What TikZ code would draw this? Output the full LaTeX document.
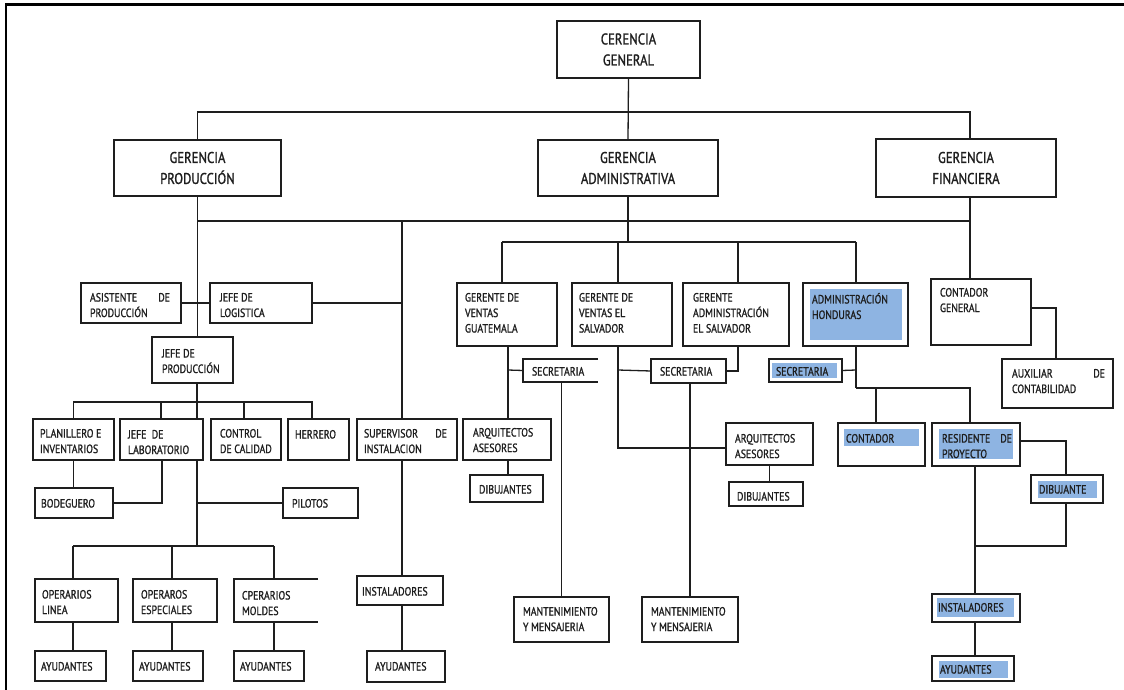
\documentclass[tikz,border=0pt]{standalone}
\usepackage{fontspec}
\setmainfont[FakeStretch=0.82,FakeBold=1.2]{PT Sans}
\usetikzlibrary{calc}
\definecolor{ink}{RGB}{30,30,30}
\definecolor{hlblue}{RGB}{142,180,226}
\tikzset{
  box/.style={draw=ink, line width=1.3pt, fill=white, inner sep=0pt, outer sep=0pt},
  openbox/.style={inner sep=0pt, outer sep=0pt},
  edge/.style={draw=ink, line width=1.3pt},
  txt/.style={inner sep=0pt, outer sep=0pt, align=left, text=ink, font=\fontsize{12}{15.5}\selectfont},
  bigtxt/.style={align=center, text=ink, font=\fontsize{15.5}{21}\selectfont},
}
% box: [style] name x1 y1 x2 y2 (pixel corners, y downward)
\newcommand\orgbox[6][box]{%
  \node[#1,anchor=north west,minimum width={(#5-#3)*1pt},minimum height={(#6-#4)*1pt}] (#2) at (#3,#4) {};}
% text: name dx dy text  (placed from the box's top left corner)
\newcommand\orgtext[4]{%
  \node[txt,anchor=north west] (#1-t) at ([shift={(#2,#3)}]#1.north west) {#4};}
\begin{document}
\begin{tikzpicture}[x=1pt,y=-1pt]
\useasboundingbox (0,0) rectangle (1124,690);
\fill[white] (0,0) rectangle (1124,690);
\draw[line width=2.2pt, black] (6,690) -- (6,4.5) -- (1124,4.5);

% ---------- top level ----------
\node[box,bigtxt,anchor=north west,minimum width=143pt,minimum height=57pt] (gg) at (557,21) {CERENCIA\\GENERAL};
\node[box,bigtxt,anchor=north west,minimum width=167pt,minimum height=56pt] (gp) at (114,140) {GERENCIA\\PRODUCCIÓN};
\node[box,bigtxt,anchor=north west,minimum width=180pt,minimum height=56pt] (ga) at (538,140) {GERENCIA\\ADMINISTRATIVA};
\node[box,bigtxt,anchor=north west,minimum width=180pt,minimum height=58pt] (gf) at (876,139) {GERENCIA\\FINANCIERA};

% ---------- production ----------
\orgbox{asis}{81}{283}{181}{323}
\orgbox{log}{210}{283}{312}{323}
\orgbox{jp}{152}{337}{233}{383}
\orgbox{pla}{33}{419}{114}{460}
\orgbox{lab}{120}{419}{203}{460}
\orgbox{con}{211}{419}{281}{460}
\orgbox{her}{288}{419}{349}{460}
\orgbox{sup}{357}{419}{457}{460}
\orgbox{bod}{35}{488}{113}{518}
\orgbox{pil}{283}{488}{358}{518}
\orgbox{op1}{35}{579}{118}{622}
\orgbox{op2}{133}{579}{217}{622}
\orgbox[openbox]{op3}{234}{579}{318}{622}
\orgbox{ay1}{35}{651}{106}{681}
\orgbox{ay2}{133}{651}{203}{681}
\orgbox{ay3}{234}{651}{304}{681}
\orgbox{ins1}{357}{576}{443}{605}
\orgbox{ay4}{367}{651}{445}{682}

% ---------- administration ----------
\orgbox{gv1}{457}{283}{557}{346}
\orgbox{gv2}{572}{283}{672}{346}
\orgbox{gadm}{683}{283}{789}{346}
\orgbox{ah}{803}{283}{908}{346}
\orgbox[openbox]{sec1}{523}{359}{598}{382}
\orgbox{sec2}{651}{359}{726}{383}
\orgbox{sec3}{769}{359}{842}{382}
\orgbox{arq1}{463}{419}{551}{460}
\orgbox{dib1}{470}{475}{543}{502}
\orgbox{arq2}{726}{423}{813}{465}
\orgbox{dib2}{729}{482}{803}{506}
\orgbox{man1}{514}{597}{609}{642}
\orgbox{man2}{642}{597}{738}{642}
\orgbox{cnt}{838}{423}{925}{466}
\orgbox{res}{932}{423}{1020}{466}
\orgbox{dib3}{1031}{475}{1103}{503}
\orgbox{ins3}{932}{594}{1020}{622}
\orgbox{ay5}{932}{656}{1014}{681}

% ---------- finance ----------
\orgbox{cg}{931}{279}{1031}{345}
\orgbox{aux}{1002}{359}{1113}{408}

% open-sided boxes
\draw[edge] (op3.north east) -- (op3.north west) -- (op3.south west) -- (op3.south east);
\draw[edge] (sec1.north east) -- (sec1.north west) -- (sec1.south west) -- (sec1.south east);

% highlighted fields
\fill[hlblue] (810,289) rectangle (902,340);
\fill[hlblue] (772,363) rectangle (837,378);
\fill[hlblue] (844,429) rectangle (919,446);
\fill[hlblue] (939,429) rectangle (1013,459);
\fill[hlblue] (1038,481) rectangle (1097,498);
\fill[hlblue] (937,598) rectangle (1014,617);
\fill[hlblue] (939,661) rectangle (1008,678);

% ---------- labels ----------
\orgtext{asis}{9}{10}{\hbox to 80pt{ASISTENTE\hfill DE}\\PRODUCCIÓN}
\orgtext{log}{10}{10}{JEFE DE\\ LOGISTICA}
\orgtext{jp}{10}{12}{JEFE DE\\PRODUCCIÓN}
\orgtext{pla}{7}{10}{PLANILLERO E\\INVENTARIOS}
\orgtext{lab}{8}{11}{JEFE\ \ DE\\LABORATORIO}
\orgtext{con}{9}{10}{CONTROL\\DE CALIDAD}
\orgtext{her}{7}{11}{HERRERO}
\orgtext{sup}{7}{10}{\hbox to 83pt{SUPERVISOR\hfill DE}\\INSTALACION}
\orgtext{bod}{6}{11}{BODEGUERO}
\orgtext{pil}{9}{11}{PILOTOS}
\orgtext{op1}{7}{11}{OPERARIOS\\LINEA}
\orgtext{op2}{8}{11}{OPERAROS\\ESPECIALES}
\orgtext{op3}{8}{12}{CPERARIOS\\MOLDES}
\orgtext{ay1}{6}{11}{AYUDANTES}
\orgtext{ay2}{6}{11}{AYUDANTES}
\orgtext{ay3}{6}{11}{AYUDANTES}
\orgtext{ins1}{5}{11}{INSTALADORES}
\orgtext{ay4}{8}{11}{AYUDANTES}

\orgtext{gv1}{8}{10}{GERENTE DE\\VENTAS\\GUATEMALA}
\orgtext{gv2}{7}{10}{GERENTE DE\\VENTAS EL\\SALVADOR}
\orgtext{gadm}{10}{10}{GERENTE\\ADMINISTRACIÓN\\EL SALVADOR}
\orgtext{ah}{9}{10}{ADMINISTRACIÓN\\HONDURAS}
\orgtext{sec1}{9}{8}{SECRETARIA}
\orgtext{sec2}{9}{8}{SECRETARIA}
\orgtext{sec3}{7}{8}{SECRETARIA}
\orgtext{arq1}{10}{9}{ARQUITECTOS\\ASESORES}
\orgtext{dib1}{9}{10}{DIBUJANTES}
\orgtext{arq2}{9}{11}{ARQUITECTOS\\ASESORES}
\orgtext{dib2}{8}{10}{DIBUJANTES}
\orgtext{man1}{9}{10}{MANTENIMIENTO\\Y MENSAJERIA}
\orgtext{man2}{9}{10}{MANTENIMIENTO\\Y MENSAJERIA}
\orgtext{cnt}{8}{11}{CONTADOR}
\orgtext{res}{10}{11}{\hbox to 70pt{RESIDENTE\hfill DE}\\PROYECTO}
\orgtext{dib3}{8}{10}{DIBUJANTE}
\orgtext{ins3}{6}{9}{INSTALADORES}
\orgtext{ay5}{8}{9}{AYUDANTES}
\orgtext{cg}{9}{9}{CONTADOR\\GENERAL}
\orgtext{aux}{10}{10}{\hbox to 93pt{AUXILIAR\hfill DE}\\CONTABILIDAD}

% ---------- junction points ----------
\coordinate (b1R) at (970,112);
\coordinate (b2R) at (970,221);
\coordinate (s1) at (402,221);
\coordinate (pr) at (197,402);
\coordinate (r1R) at (312,402);
\coordinate (lb) at (161,402);
\coordinate (cc) at (244,402);
\coordinate (lb2) at (162,503);
\coordinate (op) at (197,546);
\coordinate (oL) at (73,546);
\coordinate (oM) at (172,546);
\coordinate (oR) at (274,546);
\coordinate (aL) at (502,242);
\coordinate (a2) at (618,242);
\coordinate (a3) at (738,242);
\coordinate (aR) at (856,242);
\coordinate (g1) at (508,370);
\coordinate (g2s) at (618,370);
\coordinate (g2) at (618,448);
\coordinate (h1) at (856,370);
\coordinate (h2) at (856,388);
\coordinate (h3) at (970,388);
\coordinate (h4) at (876,388);
\coordinate (rr) at (1066,441);
\coordinate (r2) at (975,546);
\coordinate (f1) at (1056,308);

% ---------- connectors ----------
\draw[edge] (gg.south) -- (ga.north);
\draw[edge] (gp.north) |- (b1R) -- (gf.north -| b1R);
\draw[edge] (gp.south) |- (b2R);
\draw[edge] (gf.south -| b2R) -- (cg.north -| b2R);
\draw[edge] (gp.south) -- (gp.south |- jp.north);
\draw[edge] (s1) -- (sup.north -| s1);
\draw[edge] (asis.east) -- (log.west);
\draw[edge] (log.east) -- (log.east -| s1);

\draw[edge] (jp.south -| pr) -- (pr);
\draw[edge] (pla.north) |- (r1R) -- (her.north -| r1R);
\draw[edge] (lb) -- (lab.north -| lb);
\draw[edge] (pr) -- (lab.north -| pr);
\draw[edge] (cc) -- (con.north -| cc);
\draw[edge] (pla.south) -- (bod.north -| pla.south);
\draw[edge] (lab.south -| lb2) |- (bod.east);
\draw[edge] (lab.south -| pr) -- (op);
\draw[edge] (pil.west) -- (pil.west -| pr);
\draw[edge] (oL) -- (oR);
\draw[edge] (oL) -- (op1.north -| oL);
\draw[edge] (oM) -- (op2.north -| oM);
\draw[edge] (oR) -- (op3.north -| oR);
\draw[edge] (op1.south -| oL) -- (ay1.north -| oL);
\draw[edge] (op2.south -| oM) -- (ay2.north -| oM);
\draw[edge] (op3.south -| oR) -- (ay3.north -| oR);
\draw[edge] (sup.south -| s1) -- (ins1.north -| s1);
\draw[edge] (ins1.south -| s1) -- (ay4.north -| s1);

\draw[edge] (ga.south) -- (ga.south |- aL);
\draw[edge] (aL) -- (aR);
\draw[edge] (aL) -- (gv1.north -| aL);
\draw[edge] (a2) -- (gv2.north -| a2);
\draw[edge] (a3) -- (gadm.north -| a3);
\draw[edge] (aR) -- (ah.north -| aR);
\draw[edge] (gv1.south -| g1) -- (arq1.north -| g1);
\draw[edge] (g1) -- (sec1.west);
\draw[edge] (man1.north) -- (man1.north |- sec1.south);
\draw[edge] (arq1.south -| g1) -- (dib1.north -| g1);
\draw[edge] (gv2.south -| g2) -- (g2) -- (arq2.west |- g2);
\draw[edge] (g2s) -- (sec2.west);
\draw[edge] (sec2.east) -| (gadm.south -| a3);
\draw[edge] (man2.north) -- (man2.north |- sec2.south);
\draw[edge] (arq2.south) -- (arq2.south |- dib2.north);

\draw[edge] (ah.south -| h1) -- (h2);
\draw[edge] (h1) -- (sec3.east);
\draw[edge] (h2) -- (h3) -- (res.north -| h3);
\draw[edge] (h4) -- (cnt.north -| h4);
\draw[edge] (res.east |- rr) -- (rr) -- (dib3.north -| rr);
\draw[edge] (res.south -| r2) -- (ins3.north -| r2);
\draw[edge] (dib3.south -| rr) |- (r2);
\draw[edge] (ins3.south -| r2) -- (ay5.north -| r2);

\draw[edge] (cg.east |- f1) -- (f1) -- (aux.north -| f1);
\end{tikzpicture}
\end{document}
